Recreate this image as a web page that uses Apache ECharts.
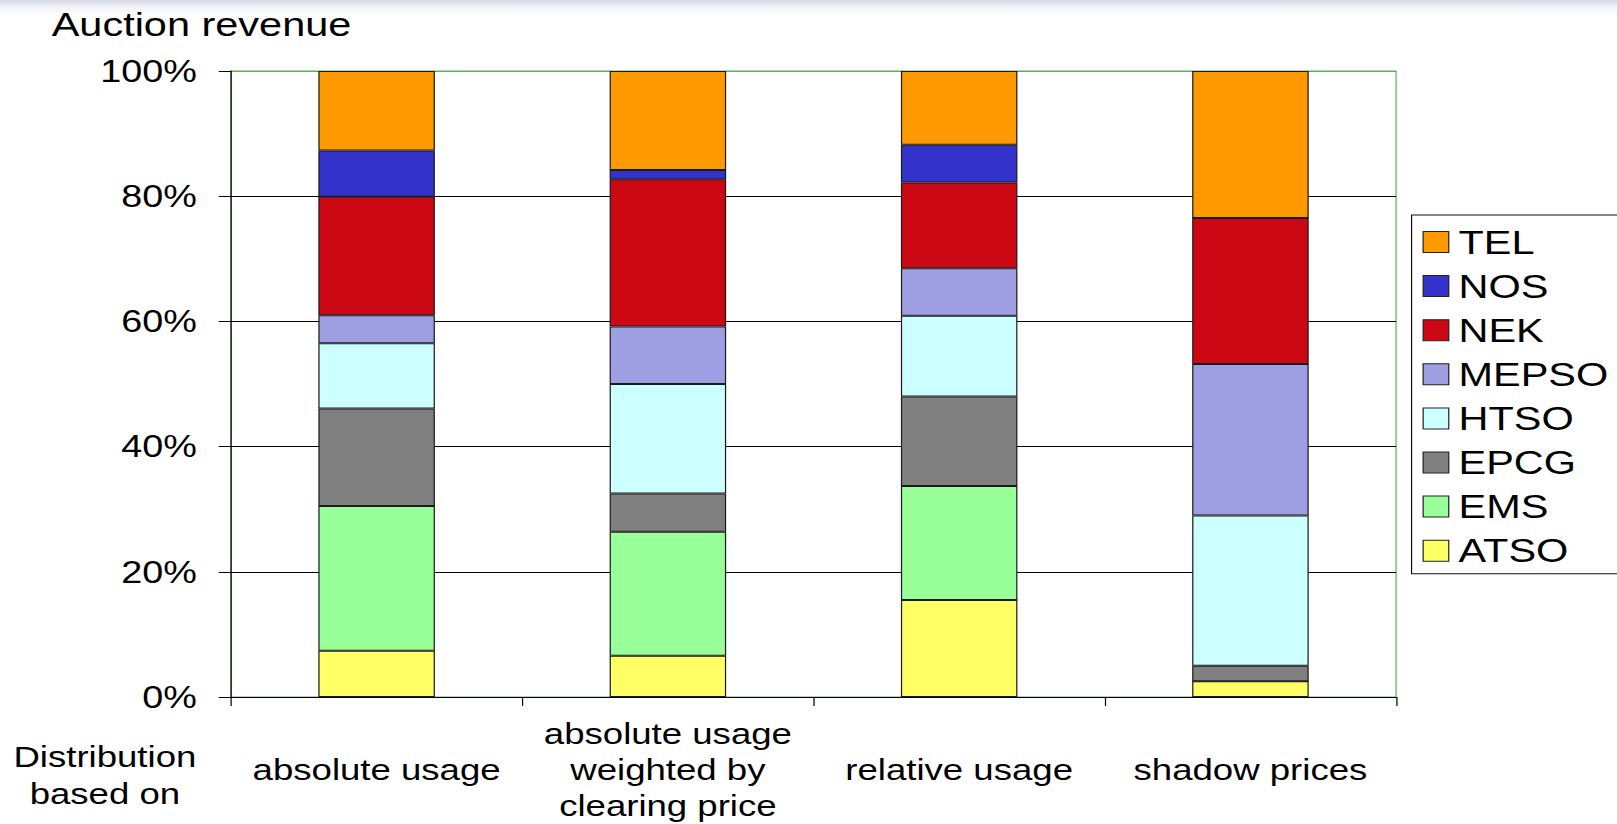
<!DOCTYPE html>
<html>
<head>
<meta charset="utf-8">
<title>Auction revenue</title>
<script src="https://cdn.jsdelivr.net/npm/echarts@6/dist/echarts.min.js"></script>
<style>
  html, body { margin: 0; padding: 0; overflow: hidden; background: #fff; }
  body { width: 1617px; height: 824px;
         background: linear-gradient(to bottom, #d9d9e6 0px, #f4f4f9 8px, #ffffff 16px); }
  /* the chart is laid out narrower and widened, so its lettering comes out broad */
  #chart { width: 1326px; height: 824px; transform: scaleX(1.2195); transform-origin: 0 0; }
</style>
</head>
<body>
<div id="chart"></div>
<script>
// Categories (distribution keys)
const categories = [
  'absolute usage',
  'absolute usage\nweighted by\nclearing price',
  'relative usage',
  'shadow prices'
];

// Share of auction revenue per TSO, in percent
const ATSO  = [7.4, 6.6, 15.5, 2.5];
const EMS   = [23.1, 19.8, 18.2, 0];
const EPCG  = [15.6, 6.1, 14.3, 2.5];
const HTSO  = [10.4, 17.5, 12.9, 24.0];
const MEPSO = [4.5, 9.2, 7.6, 24.2];
const NEK   = [18.9, 23.5, 13.7, 23.3];
const NOS   = [7.4, 1.5, 6.0, 0];
const TEL   = [12.7, 15.8, 11.8, 23.5];

const yTicks = [0, 20, 40, 60, 80, 100];
const legendOrder = ['TEL', 'NOS', 'NEK', 'MEPSO', 'HTSO', 'EPCG', 'EMS', 'ATSO'];

const seriesDefs = [
  { name: 'ATSO',  data: ATSO,  color: '#FFFF66' },
  { name: 'EMS',   data: EMS,   color: '#99FF99' },
  { name: 'EPCG',  data: EPCG,  color: '#808080' },
  { name: 'HTSO',  data: HTSO,  color: '#CCFFFF' },
  { name: 'MEPSO', data: MEPSO, color: '#9E9EE3' },
  { name: 'NEK',   data: NEK,   color: '#CC0814' },
  { name: 'NOS',   data: NOS,   color: '#3333CC' },
  { name: 'TEL',   data: TEL,   color: '#FF9900' }
];

const FONT = '"Liberation Sans", Arial, Helvetica, sans-serif';
const chart = echarts.init(document.getElementById('chart'), null, { renderer: 'svg' });

chart.setOption({
  animation: false,
  backgroundColor: 'transparent',
  textStyle: { fontFamily: FONT, color: '#000' },
  grid: {
    left: 189.4, right: 181.2, top: 71, bottom: 124,
    show: true, borderColor: '#56B356', borderWidth: 1, backgroundColor: 'transparent'
  },
  legend: {
    orient: 'vertical',
    left: 1157.5, top: 215,
    data: legendOrder,
    icon: 'rect',
    itemWidth: 21, itemHeight: 21,
    itemGap: 10.1,
    padding: [10, 10, 6, 9],
    borderColor: '#111', borderWidth: 1,
    backgroundColor: '#fff',
    selectedMode: false,
    itemStyle: { borderColor: '#222', borderWidth: 1 },
    textStyle: { fontFamily: FONT, fontSize: 34, color: '#000', lineHeight: 34, padding: [0, 0, 0, 3] }
  },
  xAxis: {
    type: 'category',
    data: categories,
    axisLine: { lineStyle: { color: '#000', width: 1 } },
    axisTick: { show: true, length: 9, interval: 0, lineStyle: { color: '#000' } },
    axisLabel: {
      interval: 0, fontFamily: FONT, fontSize: 30, lineHeight: 36, color: '#000',
      verticalAlign: 'middle', margin: 73
    }
  },
  yAxis: {
    type: 'value',
    min: yTicks[0], max: yTicks[yTicks.length - 1], interval: yTicks[1] - yTicks[0],
    axisLine: { show: true, lineStyle: { color: '#000', width: 1 } },
    axisTick: { show: true, length: 10, lineStyle: { color: '#000' } },
    axisLabel: { formatter: '{value}%', fontFamily: FONT, fontSize: 31, color: '#000', margin: 28 },
    splitLine: {
      show: true,
      lineStyle: { color: ['#000', '#000', '#000', '#000', '#000', '#56B356'], width: 1 }
    }
  },
  series: seriesDefs.map(s => ({
    name: s.name,
    type: 'bar',
    stack: 'share',
    barWidth: '40%',
    data: s.data,
    itemStyle: { color: s.color, borderColor: '#1a1a1a', borderWidth: 1 }
  })),
  graphic: [
    {
      type: 'text', left: 42.4, top: 7,
      style: { text: 'Auction revenue', font: '34px ' + FONT, fill: '#000' }
    },
    {
      type: 'text', x: 86, y: 775,
      style: {
        text: 'Distribution\nbased on', font: '30px ' + FONT, fill: '#000',
        align: 'center', verticalAlign: 'middle', lineHeight: 37
      }
    }
  ]
});
</script>
</body>
</html>
